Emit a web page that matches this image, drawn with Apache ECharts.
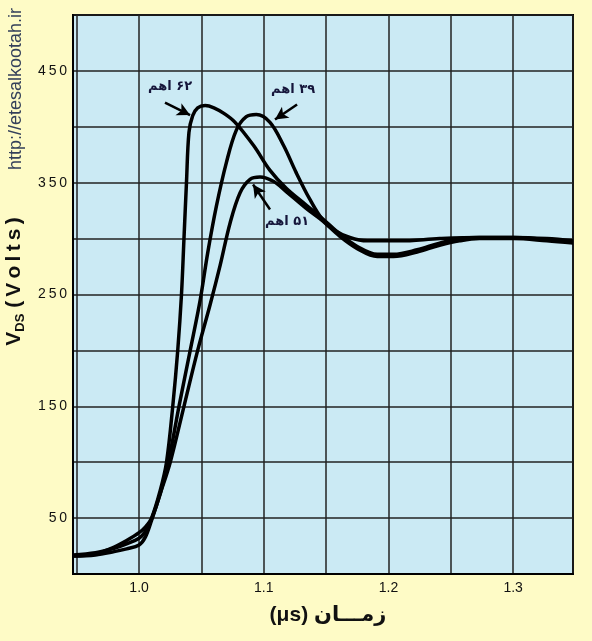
<!DOCTYPE html>
<html><head><meta charset="utf-8">
<script src="https://cdn.jsdelivr.net/npm/echarts@6/dist/echarts.min.js"></script>
<style>html,body{margin:0;padding:0;background:#fefbc6;}#c{width:592px;height:641px;}</style>
</head><body><div id="c"></div>
<script>
// ---- data ----
const xTickLabels = ['1.0', '1.1', '1.2', '1.3'];
const yTickLabels = ['50', '150', '250', '350', '450'];

const r62X = [0.947, 0.965, 0.980, 0.990, 1.000, 1.005, 1.010, 1.017, 1.022, 1.027, 1.031, 1.034, 1.036, 1.038, 1.040, 1.043, 1.047, 1.053, 1.060, 1.068, 1.077, 1.092, 1.105, 1.118, 1.134, 1.147, 1.161, 1.175, 1.191, 1.204, 1.223, 1.241, 1.257, 1.273, 1.300, 1.327, 1.348];
const r62Y = [16, 18, 24, 30, 37, 42, 50, 75, 100, 150, 200, 250, 300, 350, 395, 410, 417, 419, 417, 412, 404, 383, 361, 345, 330, 318, 304, 293, 286, 286, 290, 296, 300, 301, 301, 299, 297];

const r39X = [0.947, 0.965, 0.980, 0.990, 1.000, 1.005, 1.010, 1.017, 1.024, 1.032, 1.041, 1.049, 1.055, 1.062, 1.070, 1.078, 1.086, 1.094, 1.105, 1.116, 1.126, 1.137, 1.147, 1.156, 1.169, 1.183, 1.209, 1.241, 1.273, 1.300, 1.327, 1.348];
const r39Y = [17, 19, 23, 27, 32, 38, 49, 72, 103, 150, 200, 245, 287, 329, 368, 397, 409, 411, 404, 383, 359, 335, 317, 308, 301, 298, 298, 300, 301, 301, 300, 298];

const r51X = [0.947, 0.965, 0.980, 0.990, 1.000, 1.005, 1.010, 1.017, 1.025, 1.036, 1.047, 1.057, 1.065, 1.073, 1.081, 1.089, 1.097, 1.108, 1.118, 1.134, 1.147, 1.161, 1.175, 1.191, 1.204, 1.223, 1.241, 1.257, 1.273, 1.300, 1.327, 1.348];
const r51Y = [16, 17, 20, 22.5, 26, 33, 48, 72, 100, 150, 200, 241, 276, 314, 341, 353, 355, 351, 342, 327, 316, 302, 291, 284, 284, 288, 294, 298, 300, 300, 298, 296];

const seriesNames = ['۶۲ اهم', '۳۹ اهم', '۵۱ اهم'];

// ---- build ----
function pairs(xs, ys) { return xs.map((x, i) => [x, ys[i]]); }
const RLE = '\u202B', PDF = '\u202C';
const TS = '\u2009';

const lineCommon = {
  type: 'line', showSymbol: false, symbol: 'none', smooth: 0.35,
  lineStyle: { color: '#000', width: 3.5 }, silent: true, z: 5
};

const chart = echarts.init(document.getElementById('c'));
chart.setOption({
  animation: false,
  backgroundColor: '#fefbc6',
  grid: { left: 73, right: 19, top: 15, bottom: 67, outerBoundsMode: 'none', containLabel: false,
          show: true, backgroundColor: '#cbeaf4', borderColor: '#000', borderWidth: 2 },
  graphic: [{
    type: 'text', x: 16, y: 89, rotation: Math.PI / 2,
    style: { text: 'http://etesalkootah.ir', font: '18px "Liberation Sans"', fill: '#34405a', align: 'center', verticalAlign: 'middle' }
  }],
  xAxis: {
    type: 'value', min: 0.947, max: 1.348, splitNumber: 8,
    axisLine: { show: true, lineStyle: { color: '#000', width: 2 } },
    axisTick: { show: false },
    splitLine: { show: true, lineStyle: { color: '#222', width: 1.5 } },
    axisLabel: {
      margin: 7, color: '#111', fontSize: 14, fontFamily: 'Liberation Sans', showMinLabel: true, showMaxLabel: true,
      formatter: v => { const t = xTickLabels.find(s => Math.abs(parseFloat(s) - v) < 1e-6); return t || ''; }
    },
    name: '(μs) زمـــان', nameLocation: 'middle', nameGap: 31,
    nameTextStyle: { fontSize: 21, fontWeight: 'bold', color: '#111', fontFamily: '"Liberation Sans", "DejaVu Sans"', padding: [0, 0, 0, 10] }
  },
  yAxis: {
    type: 'value', min: 0, max: 500, interval: 50,
    axisLine: { show: true, lineStyle: { color: '#000', width: 2 } },
    axisTick: { show: false },
    splitLine: { show: true, lineStyle: { color: '#222', width: 1.5 } },
    axisLabel: {
      margin: 6, color: '#111', fontSize: 14, fontFamily: 'Liberation Sans',
      formatter: v => { const t = yTickLabels.find(s => Math.abs(parseFloat(s) - v) < 1e-6); return t ? t.split('').join(TS) : ''; }
    },
    name: '{v|V}{s|DS}{v| ' + '(Volts)'.split('').join(TS) + '}', nameLocation: 'middle', nameRotate: 90, nameGap: 41,
    nameTextStyle: {
      padding: [0, 0, 0, 26],
      rich: {
        v: { fontSize: 21, fontWeight: 'bold', color: '#111', fontFamily: 'Liberation Sans', lineHeight: 26 },
        s: { fontSize: 13, fontWeight: 'bold', color: '#111', fontFamily: 'Liberation Sans', lineHeight: 14, verticalAlign: 'bottom' }
      }
    }
  },
  series: [
    Object.assign({}, lineCommon, {
      name: seriesNames[0], data: pairs(r62X, r62Y),
      markLine: {
        silent: true, symbol: ['none', 'arrow'], symbolSize: [10, 13], animation: false,
        lineStyle: { color: '#000', width: 2.5, type: 'solid' }, label: { show: false },
        data: [
          [{ coord: [1.0208, 421.7] }, { coord: [1.0409, 410.5] }],
          [{ coord: [1.1267, 420] }, { coord: [1.109, 406.5] }],
          [{ coord: [1.105, 326] }, { coord: [1.0914, 348.4] }]
        ]
      },
      markPoint: {
        silent: true, symbol: 'circle', symbolSize: 1, itemStyle: { color: 'rgba(0,0,0,0)' }, animation: false,
        label: { show: true, position: 'inside', formatter: '{b}', fontSize: 13, fontWeight: 'bold', color: '#15153a', fontFamily: '"DejaVu Sans"' },
        data: [
          { name: RLE + seriesNames[0] + PDF, coord: [1.0249, 436] },
          { name: RLE + seriesNames[1] + PDF, coord: [1.1235, 433.5] },
          { name: RLE + seriesNames[2] + PDF, coord: [1.1187, 315.3] }
        ]
      }
    }),
    Object.assign({}, lineCommon, { name: seriesNames[1], data: pairs(r39X, r39Y) }),
    Object.assign({}, lineCommon, { name: seriesNames[2], data: pairs(r51X, r51Y) })
  ]
});
</script></body></html>
